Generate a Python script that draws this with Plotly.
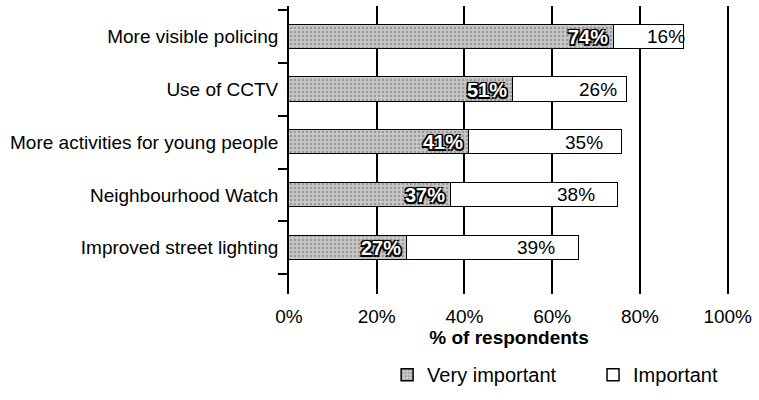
import plotly.graph_objects as go

categories = [
    "More visible policing",
    "Use of CCTV",
    "More activities for young people",
    "Neighbourhood Watch",
    "Improved street lighting",
]
very_important = [74, 51, 41, 37, 27]
important = [16, 26, 35, 38, 39]
x_ticks = [0, 20, 40, 60, 80, 100]

FONT = "Liberation Sans, Arial, Helvetica, sans-serif"
pos = list(range(len(categories)))

fig = go.Figure()
fig.add_trace(
    go.Bar(
        y=pos,
        x=very_important,
        orientation="h",
        name="Very important",
        legend="legend",
        width=0.46,
        marker=dict(
            color="#c4c4c4",
            line=dict(color="#000000", width=1.5),
            pattern=dict(shape=".", fgcolor="#6e6e6e", bgcolor="#c9c9c9", size=4, solidity=0.35),
        ),
        hoverinfo="skip",
    )
)
fig.add_trace(
    go.Bar(
        y=pos,
        x=important,
        orientation="h",
        name="Important",
        legend="legend2",
        width=0.46,
        marker=dict(color="#ffffff", line=dict(color="#000000", width=1.5)),
        hoverinfo="skip",
    )
)

# value labels: white outlined at the end of the grey segment, plain inside the white one
for p, v, i in zip(pos, very_important, important):
    fig.add_annotation(
        x=v,
        y=p,
        text=f"{v}%",
        showarrow=False,
        xanchor="right",
        yanchor="middle",
        xshift=-4,
        font=dict(
            family=FONT,
            size=20,
            color="#ffffff",
            weight="bold",
            shadow="-1.5px -1.5px 0 #000, 1.5px -1.5px 0 #000, -1.5px 1.5px 0 #000, 1.5px 1.5px 0 #000, 0 0 3px #000",
        ),
    )
    fig.add_annotation(
        x=v + i * 0.75,
        y=p,
        text=f"{i}%",
        showarrow=False,
        font=dict(family=FONT, size=19, color="#000000"),
        xanchor="center",
        yanchor="middle",
    )

legend_style = dict(
    orientation="h",
    xanchor="left",
    y=-0.28,
    yanchor="middle",
    font=dict(size=20),
    itemwidth=30,
    bgcolor="rgba(0,0,0,0)",
)

fig.update_layout(
    barmode="stack",
    width=759,
    height=400,
    margin=dict(l=289, r=30, t=6, b=100),
    paper_bgcolor="#ffffff",
    plot_bgcolor="#ffffff",
    font=dict(family=FONT, size=19, color="#000000"),
    showlegend=True,
    legend=dict(x=0.223, **legend_style),
    legend2=dict(x=0.691, **legend_style),
    bargap=0,
)
fig.update_xaxes(
    range=[0, 100.3],
    tickvals=x_ticks,
    ticktext=[f"{t}%" for t in x_ticks],
    showgrid=True,
    gridcolor="#000000",
    gridwidth=1.8,
    zeroline=False,
    showline=False,
    ticks="",
    ticklabelstandoff=9,
    automargin=False,
    tickfont=dict(size=19),
    title=dict(text="<b>% of respondents</b>", font=dict(size=19), standoff=2),
)
fig.update_yaxes(
    range=[4.88, -0.585],
    tickvals=pos,
    ticktext=categories,
    ticks="",
    showgrid=False,
    zeroline=False,
    showline=True,
    linecolor="#000000",
    linewidth=1.8,
    ticklabelstandoff=5,
    automargin=False,
    tickfont=dict(size=19),
    minor=dict(
        tickvals=[p - 0.5 for p in pos] + [len(categories) - 0.5],
        ticks="outside",
        ticklen=9,
        tickcolor="#000000",
        tickwidth=1.5,
        showgrid=False,
    ),
)

fig.write_html(
    "out.html",
    config={"displayModeBar": False},
    post_script="document.body.style.margin='0px';",
)
